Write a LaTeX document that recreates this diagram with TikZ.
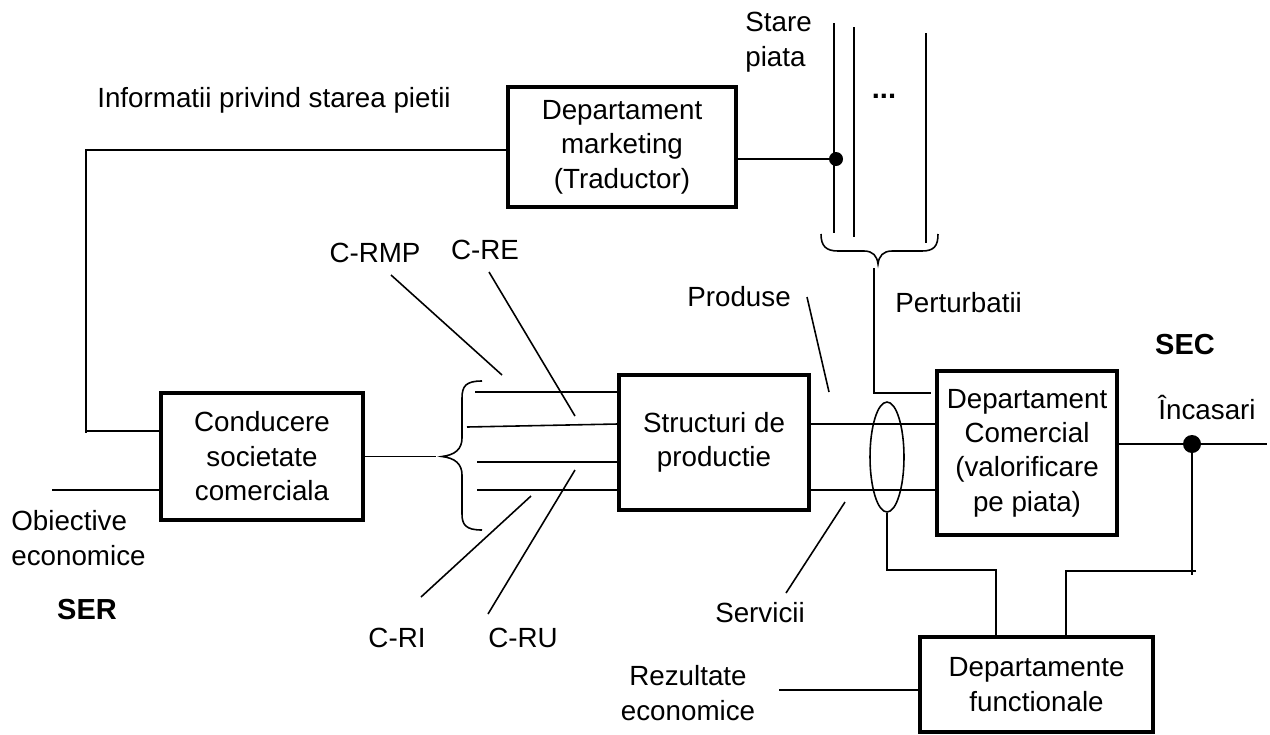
\documentclass[tikz,border=0pt]{standalone}
\usepackage{fontspec}
\setmainfont{Liberation Sans}
\usetikzlibrary{shapes.geometric}
\begin{document}
\begin{tikzpicture}[x=0.02cm,y=-0.02cm,
  every node/.style={font=\fontsize{15.8}{19.6}\selectfont, inner sep=0pt},
  wire/.style={line width=0.9pt},
  block/.style={draw, line width=1.8pt, align=center},
  boldlbl/.style={font=\fontsize{16.5}{19.6}\selectfont\bfseries},
  dot/.style={circle, fill, inner sep=0pt}]
\useasboundingbox (0,0) rectangle (1270,734);

% blocks
\node[block, minimum width=4.56cm, minimum height=2.4cm] (mkt) at (622,147) {Departament\\marketing\\(Traductor)};
\node[block, minimum width=4.04cm, minimum height=2.54cm] (cond) at (262,456.5) {Conducere\\societate\\comerciala};
\node[block, minimum width=3.8cm, minimum height=2.7cm] (str) at (714,442.5) {Structuri de\\productie};
\node[block, minimum width=3.6cm, minimum height=3.28cm] (com) at (1027,453) {Departament\\Comercial\\(valorificare\\pe piata)};
\node[block, minimum width=4.66cm, minimum height=1.9cm] (func) at (1036.5,684.5) {Departamente\\functionale};

\node[draw, ellipse, wire, minimum width=0.68cm, minimum height=2.2cm] (ell) at (887,457) {};
\node[dot, minimum size=0.28cm] (d1) at (836,159) {};
\node[dot, minimum size=0.36cm] (d2) at (1192,444) {};

% labels
\node (info) at (274,100) {Informatii privind starea pietii};
\node[align=left, anchor=west] (stare) at (745,42) {Stare\\piata};
\node[boldlbl] (dots) at (884,96) {...};
\node[anchor=west] (pert) at (895,303) {Perturbatii};
\node[boldlbl] (sec) at (1185,345) {SEC};
\node (inc) at (1207,407) {Încasari};
\node[align=left, anchor=west] (obj) at (11,538) {Obiective\\economice};
\node[boldlbl] (ser) at (87,610) {SER};
\node (crmp) at (375,253) {C-RMP};
\node (cre) at (485,250) {C-RE};
\node (cri) at (397,638) {C-RI};
\node (cru) at (523,638) {C-RU};
\node (prod) at (739,297) {Produse};
\node (serv) at (760,613) {Servicii};
\node[align=center] (rez) at (688,693) {Rezultate\\economice};

% free ends of the connectors
\coordinate (infoc) at (86,150);
\coordinate (infob) at (86,433);
\coordinate (objL) at (52,490);
\coordinate (brtip) at (436,456.5);
\coordinate (s1) at (475,392);
\coordinate (s2) at (467,427);
\coordinate (s3) at (477,462);
\coordinate (s4) at (477,490);
\coordinate (crmpA) at (391,275);
\coordinate (crmpB) at (502,375);
\coordinate (creA) at (489,272);
\coordinate (creB) at (575,416);
\coordinate (criA) at (531,496);
\coordinate (criB) at (421,597);
\coordinate (cruA) at (575,470);
\coordinate (cruB) at (488,614);
\coordinate (prodA) at (807,297);
\coordinate (prodB) at (829,392);
\coordinate (servA) at (845,502);
\coordinate (servB) at (786,593);
\coordinate (outR) at (1267,444);
\coordinate (d2b) at (1192,575);
\coordinate (fbR) at (1196,571);
\coordinate (rezR) at (779,690);
\coordinate (bus1t) at (834,23);
\coordinate (bus1b) at (834,233);
\coordinate (bus2t) at (854,27);
\coordinate (bus2b) at (854,237);
\coordinate (bus3t) at (926,33);
\coordinate (bus3b) at (926,243);
\coordinate (pt) at (874,268);
\coordinate (ptR) at (931,393);

% market information feedback
\draw[wire] (mkt.west |- 0,150) -- (infoc) -- (infob);
\draw[wire] (86,431) -- (cond.west |- 0,431);
\draw[wire] (objL) -- (cond.west |- objL);
\draw[wire] (cond.east) -- (brtip);

% resource brace
\draw[wire] (482,381) .. controls (466,381) and (462,386) .. (462,398) -- (462,438)
  .. controls (462,449) and (455,455) .. (442,456.5)
  .. controls (455,458) and (462,464) .. (462,475) -- (462,514)
  .. controls (462,525) and (466,530) .. (482,530);

% resource flows into production
\draw[wire] (s1) -- (str.west |- s1);
\draw[wire] (s2) -- (str.west |- 0,424);
\draw[wire] (s3) -- (str.west |- s3);
\draw[wire] (s4) -- (str.west |- s4);
\draw[wire] (crmpA) -- (crmpB);
\draw[wire] (creA) -- (creB);
\draw[wire] (criA) -- (criB);
\draw[wire] (cruA) -- (cruB);

% products and services
\draw[wire] (str.east |- 0,424) -- (com.west |- 0,424);
\draw[wire] (str.east |- 0,490) -- (com.west |- 0,490);
\draw[wire] (prodA) -- (prodB);
\draw[wire] (servA) -- (servB);

% market state bus
\draw[wire] (bus1t) -- (bus1b);
\draw[wire] (bus2t) -- (bus2b);
\draw[wire] (bus3t) -- (bus3b);
\draw[wire] (mkt.east |- d1) -- (d1.center);
\draw[wire] (821,234) .. controls (821,246) and (826,251) .. (838,251) -- (864,251)
  .. controls (873,251) and (877,256) .. (878,264)
  .. controls (879,256) and (883,251) .. (892,251) -- (922,251)
  .. controls (934,251) and (938,246) .. (938,234);
\draw[wire] (pt) |- (ptR);

% output and functional departments
\draw[wire] (com.east |- outR) -- (outR);
\draw[wire] (d2.center) -- (d2b);
\draw[wire] (fbR) -| (func.north -| 1066,0);
\draw[wire] (ell.south) -- (ell.south |- 0,570) -| (func.north -| 996,0);
\draw[wire] (rezR) -- (func.west |- rezR);
\end{tikzpicture}
\end{document}
